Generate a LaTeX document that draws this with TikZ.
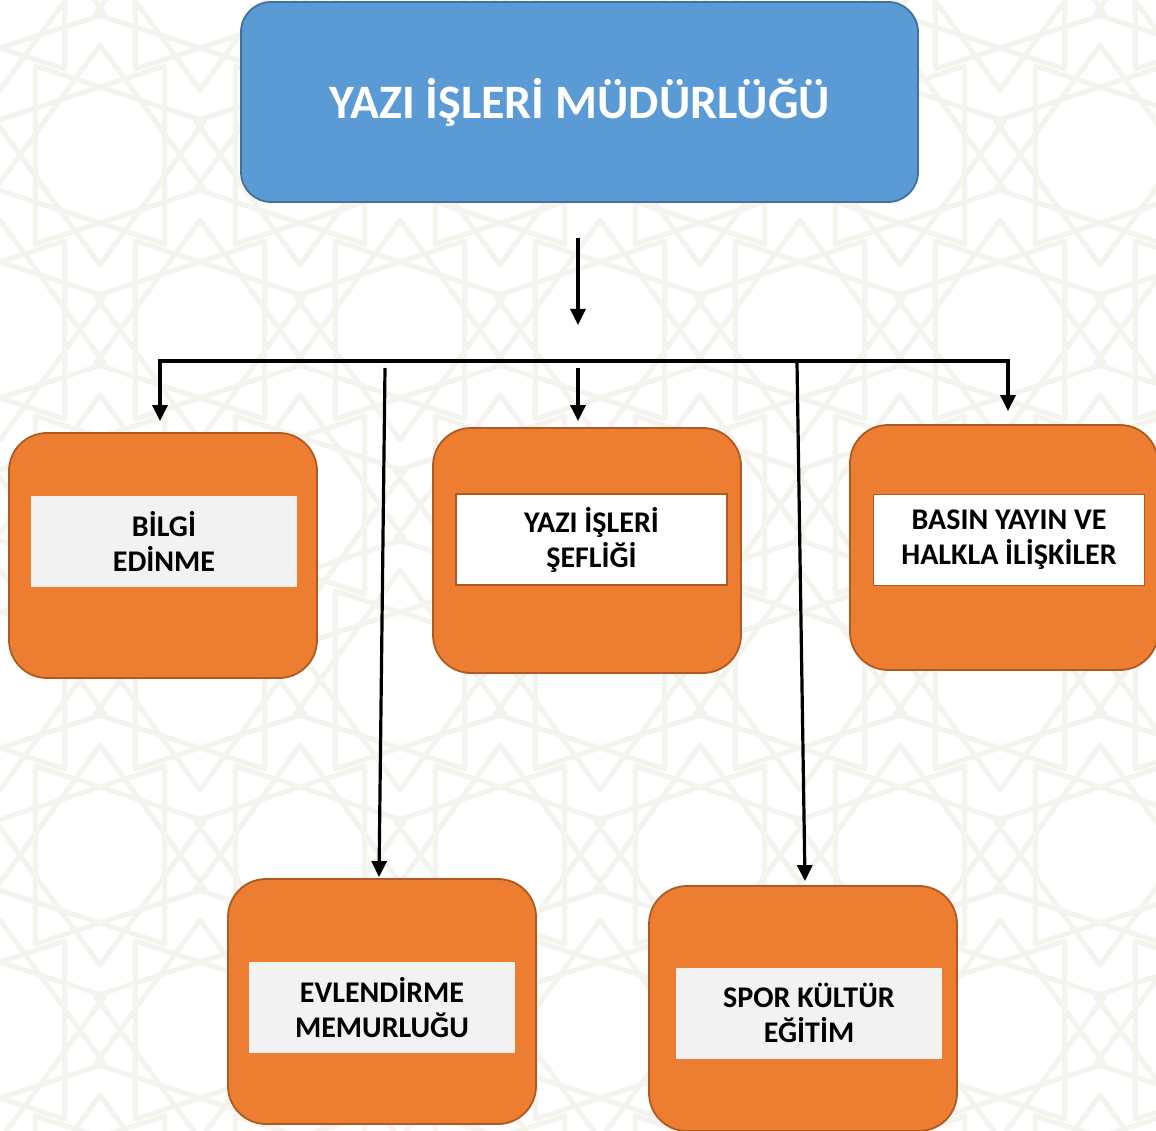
\documentclass[tikz,border=0pt]{standalone}
\usepackage{fontspec}
\setmainfont{Carlito}
\usetikzlibrary{arrows.meta}

\definecolor{headblue}{RGB}{91,155,213}
\definecolor{headline}{RGB}{65,113,156}
\definecolor{unitorange}{RGB}{237,125,49}
\definecolor{unitline}{RGB}{174,90,33}
\definecolor{panelgrey}{RGB}{242,242,242}
\definecolor{patterncol}{RGB}{245,243,237}

\begin{document}
\begin{tikzpicture}[x=1pt,y=-1pt,
  pat/.style={draw=patterncol,line width=5pt,line join=round},
  head/.style={rectangle,rounded corners=30pt,draw=headline,line width=1.8pt,fill=headblue,
    minimum width=677pt,minimum height=200pt,inner sep=0pt,text=white,
    font=\bfseries\fontsize{48}{56}\selectfont},
  unit/.style={rectangle,rounded corners=38pt,draw=unitline,line width=1.8pt,fill=unitorange,
    minimum width=308pt,minimum height=245pt,inner sep=0pt},
  panel/.style={rectangle,fill=panelgrey,minimum width=266pt,minimum height=91pt,inner sep=0pt,
    align=center,font=\bfseries\fontsize{30}{35}\selectfont},
  framed/.style={panel,fill=white,draw=unitline,line width=1.6pt,minimum width=271pt},
  link/.style={line width=3.2pt,-{Triangle[length=16pt,width=15pt]}}]
\useasboundingbox (0,0) rectangle (1156,1131);
\fill[white] (0,0) rectangle (1156,1131);

% background pattern
\foreach \x in {0,200,...,1200}
  \foreach \y in {-20,330,680,1030} {
    \draw[pat,shift={(\x,\y)}] (90:110) \foreach \k in {1,...,9} { -- (90+108*\k:110) } -- cycle;
    \draw[pat,shift={(\x+100,\y+175)}] (90:110) \foreach \k in {1,...,9} { -- (90+108*\k:110) } -- cycle;
  }

\node[head] at (579.5,102) (head) {YAZI İŞLERİ MÜDÜRLÜĞÜ};

\node[unit] at (163,555.5) (bilgi) {};
\node[unit] at (587,550.5) (sef) {};
\node[unit] at (1004,547.5) (basin) {};
\node[unit] at (382,1001.5) (evl) {};
\node[unit] at (803,1008.5) (spor) {};

\node[panel] at (164,541.5) (bilgitext) {BİLGİ\\EDİNME};
\node[framed] at (591.5,539.5) (seftext) {YAZI İŞLERİ\\ŞEFLİĞİ};
\node[framed] at (1009,540) (basintext) {BASIN YAYIN VE\\HALKLA İLİŞKİLER};
\node[panel] at (382,1007.5) (evltext) {EVLENDİRME\\MEMURLUĞU};
\node[panel] at (809,1013) (sportext) {SPOR KÜLTÜR\\EĞİTİM};

\coordinate (bus) at (578,362);
\coordinate (evltop) at (385,368);
\coordinate (sportop) at (797,362);

\draw[link] ([xshift=-1.5pt,yshift=-35pt]head.south) -- ([yshift=37pt]bus);
\draw[link,{Triangle[length=16pt,width=15pt]}-{Triangle[length=16pt,width=15pt]}]
  ([xshift=-3pt,yshift=11pt]bilgi.north) -- ++(0,-60) -| ([xshift=4pt,yshift=13pt]basin.north);
\draw[link] ([yshift=-6pt]bus) -- ([xshift=-9pt,yshift=6pt]sef.north);
\draw[link] (evltop) -- ([xshift=-3pt,yshift=1pt]evl.north);
\draw[link] (sportop) -- ([xshift=2pt,yshift=4pt]spor.north);
\end{tikzpicture}
\end{document}
